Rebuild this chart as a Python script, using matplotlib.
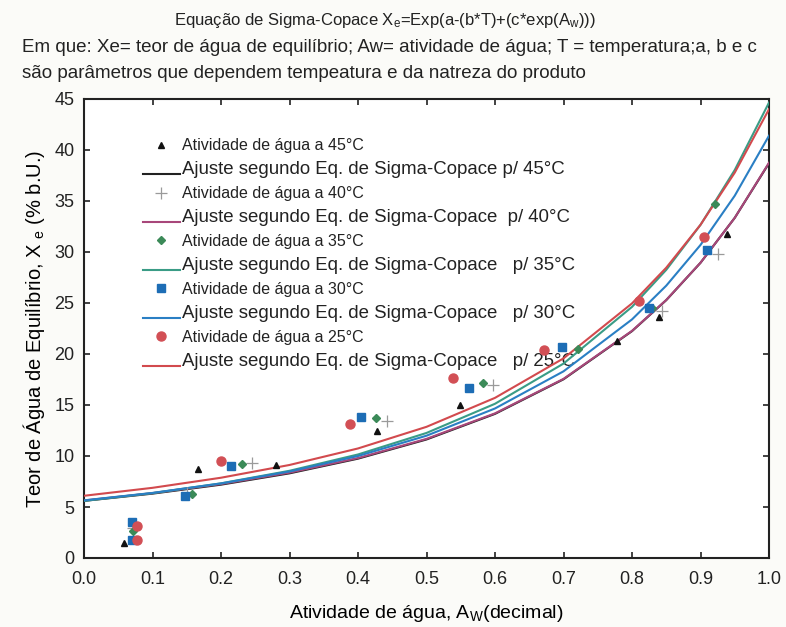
import matplotlib
matplotlib.use("Agg")
import matplotlib.pyplot as plt
from matplotlib.lines import Line2D
from matplotlib.legend_handler import HandlerLine2D

plt.rcParams['font.family'] = ['Liberation Sans', 'DejaVu Sans']
plt.rcParams['mathtext.fontset'] = 'custom'
plt.rcParams['mathtext.rm'] = 'Liberation Sans'
plt.rcParams['mathtext.it'] = 'Liberation Sans:italic'

# ---- experimental points (Aw, Xe) ----
aw_45 = [0.058, 0.166, 0.280, 0.428, 0.549, 0.778, 0.840, 0.939]
xe_45 = [1.5, 8.7, 9.1, 12.5, 15.0, 21.3, 23.6, 31.8]
aw_40 = [0.072, 0.150, 0.245, 0.442, 0.597, 0.844, 0.926]
xe_40 = [2.9, 6.4, 9.3, 13.4, 17.0, 24.2, 29.8]
aw_35 = [0.071, 0.158, 0.231, 0.426, 0.583, 0.721, 0.829, 0.921]
xe_35 = [2.6, 6.3, 9.2, 13.7, 17.2, 20.5, 24.5, 34.7]
aw_30 = [0.070, 0.070, 0.147, 0.215, 0.404, 0.562, 0.698, 0.825, 0.909]
xe_30 = [3.5, 1.8, 6.1, 9.0, 13.8, 16.7, 20.7, 24.5, 30.2]
aw_25 = [0.077, 0.077, 0.200, 0.388, 0.539, 0.672, 0.810, 0.905]
xe_25 = [3.1, 1.8, 9.5, 13.1, 17.6, 20.4, 25.2, 31.5]

# ---- fitted curves read along Aw ----
aw_fit = [0.0, 0.1, 0.2, 0.3, 0.4, 0.5, 0.6, 0.7, 0.8, 0.85, 0.9, 0.95, 1.0]
fit_45 = [5.60, 6.31, 7.19, 8.30, 9.74, 11.62, 14.13, 17.52, 22.24, 25.28, 28.94, 33.35, 38.70]
fit_40 = [5.64, 6.36, 7.25, 8.37, 9.80, 11.68, 14.18, 17.56, 22.27, 25.30, 28.95, 33.35, 38.75]
fit_35 = [5.60, 6.36, 7.32, 8.55, 10.15, 12.26, 15.12, 19.06, 24.62, 28.25, 32.66, 38.04, 44.65]
fit_30 = [5.65, 6.38, 7.31, 8.48, 10.00, 11.99, 14.66, 18.30, 23.39, 26.70, 30.69, 35.52, 41.40]
fit_25 = [6.10, 6.88, 7.87, 9.12, 10.74, 12.86, 15.70, 19.57, 24.96, 28.46, 32.67, 37.78, 44.00]

x_ticks = [0.0, 0.1, 0.2, 0.3, 0.4, 0.5, 0.6, 0.7, 0.8, 0.9, 1.0]
y_ticks = [0, 5, 10, 15, 20, 25, 30, 35, 40, 45]

fig = plt.figure(figsize=(7.86, 6.27), dpi=100, facecolor='#fbfbf8')
ax = fig.add_axes([84/786, 1-558/627, (769-84)/786, (558-99)/627])
ax.set_facecolor('white')

lw = 1.5
l45, = ax.plot(aw_fit, fit_45, color='#222222', lw=lw, zorder=3)
l40, = ax.plot(aw_fit, fit_40, color='#a8477a', lw=lw, zorder=3)
l35, = ax.plot(aw_fit, fit_35, color='#3a9c86', lw=lw, zorder=3)
l30, = ax.plot(aw_fit, fit_30, color='#2a7fc4', lw=lw, zorder=3)
l25, = ax.plot(aw_fit, fit_25, color='#d24a4e', lw=lw, zorder=3)

m45, = ax.plot(aw_45, xe_45, ls='none', marker='^', ms=5, color='#111111', zorder=4)
m40, = ax.plot(aw_40, xe_40, ls='none', marker='+', ms=8, mew=0.9, color='#9a9a9a', zorder=4)
m35, = ax.plot(aw_35, xe_35, ls='none', marker='D', ms=4.5, color='#3b8a58', zorder=4)
m30, = ax.plot(aw_30, xe_30, ls='none', marker='s', ms=6, color='#1d6db5', zorder=4)
m25, = ax.plot(aw_25, xe_25, ls='none', marker='o', ms=6.5, color='#d24f55', zorder=4)

ax.set_xlim(0, 1.0)
ax.set_ylim(0, 45)
ax.set_xticks(x_ticks)
ax.set_xticklabels([f"{v:.1f}" for v in x_ticks])
ax.set_yticks(y_ticks)
ax.tick_params(direction='in', length=4, width=1.2, top=True, right=True,
               labelsize=13, colors='#222222')
ax.tick_params(axis='x', pad=9)
ax.tick_params(axis='y', pad=7)
for s in ax.spines.values():
    s.set_linewidth(1.5)
    s.set_color('#222222')

ax.set_xlabel(r"Atividade de água, A$_\mathrm{W}$(decimal)", fontsize=14, labelpad=11)
ax.set_ylabel(r"Teor de Água de Equilíbrio, X $_\mathrm{e}$ (% b.U.)", fontsize=14.5, labelpad=5)


class BaseLineHandler(HandlerLine2D):
    def create_artists(self, legend, orig_handle, xdescent, ydescent, width, height, fontsize, trans):
        arts = super().create_artists(legend, orig_handle, xdescent, ydescent, width, height, fontsize, trans)
        for a in arts:
            if isinstance(a, Line2D) and a.get_linestyle() not in ('None', 'none', ''):
                a.set_ydata([0.0] * len(a.get_xdata()))
        return arts


handles = [m45, l45, m40, l40, m35, l35, m30, l30, m25, l25]
labels = ["Atividade de água a 45°C",
          "Ajuste segundo Eq. de Sigma-Copace p/ 45°C",
          "Atividade de água a 40°C",
          "Ajuste segundo Eq. de Sigma-Copace  p/ 40°C",
          "Atividade de água a 35°C",
          "Ajuste segundo Eq. de Sigma-Copace   p/ 35°C",
          "Atividade de água a 30°C",
          "Ajuste segundo Eq. de Sigma-Copace   p/ 30°C",
          "Atividade de água a 25°C",
          "Ajuste segundo Eq. de Sigma-Copace   p/ 25°C"]
hm = {h: BaseLineHandler() for h in [l45, l40, l35, l30, l25]}
leg = ax.legend(handles, labels, loc='upper left', bbox_to_anchor=((143-84)/685, (558-138)/459),
                frameon=False, fontsize=11, handlelength=2.4, handletextpad=0.15,
                labelspacing=0.52, borderpad=0, borderaxespad=0, handler_map=hm)
for i, t in enumerate(leg.get_texts()):
    t.set_fontsize(11.5 if i % 2 == 0 else 13.4)
    t.set_color('#222222')
leg.set_zorder(2)

fig.text(385/786, 1-21/627, r"Equação de Sigma-Copace X$_\mathrm{e}$=Exp(a-(b*T)+(c*exp(A$_\mathrm{w}$)))",
         ha='center', va='center', fontsize=12, color='#222222')
fig.text(22/786, 1-47/627, "Em que: Xe= teor de água de equilíbrio; Aw= atividade de água; T = temperatura;a, b e c",
         ha='left', va='center', fontsize=13.5, color='#222222')
fig.text(22/786, 1-73/627, "são parâmetros que dependem tempeatura e da natreza do produto",
         ha='left', va='center', fontsize=13.5, color='#222222')

fig.savefig("out.png", dpi=100, facecolor=fig.get_facecolor())
